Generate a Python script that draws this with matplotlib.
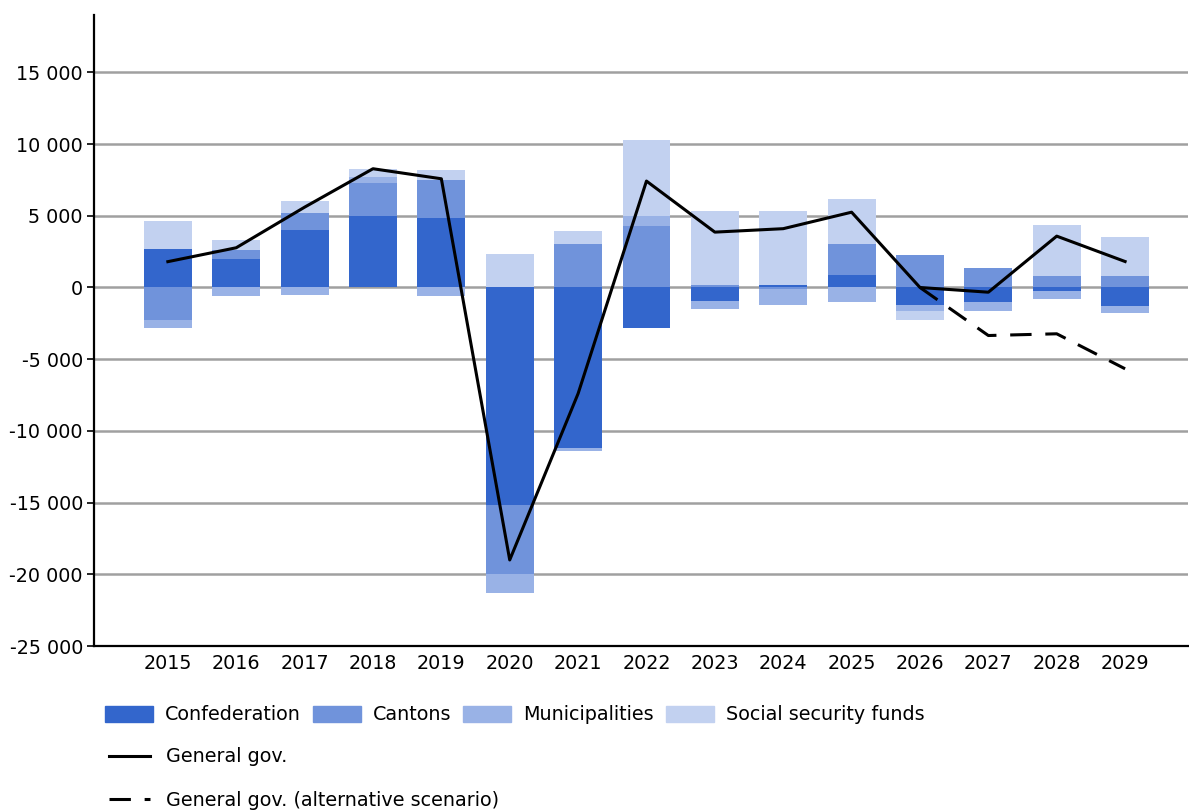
import numpy as np
import matplotlib.pyplot as plt
from matplotlib.patches import Patch
from matplotlib.lines import Line2D
from matplotlib.ticker import FuncFormatter

years = [str(y) for y in range(2015, 2030)]

confederation = [2700, 2000, 3980, 4950, 4840, -15200, -11170, -2840, -960, 150, 880, -1210, -1020, -260, -1260]
cantons = [-2300, 580, 1200, 2330, 2670, -4800, 3050, 4260, 140, -100, 2170, 2280, 1350, 770, 770]
municipalities = [-540, -560, -510, 420, -600, -1270, -200, 700, -530, -1100, -1020, -440, -630, -550, -490]
social_security = [1930, 700, 820, 530, 680, 2300, 860, 5310, 5160, 5150, 3110, -600, 0, 3600, 2720]

general_gov = [1800, 2770, 5600, 8280, 7580, -19000, -7400, 7420, 3860, 4100, 5250, 0, -330, 3580, 1810]
alt_years = ["2026", "2027", "2028", "2029"]
general_gov_alt = [0, -3350, -3230, -5670]

series = [
    ("Confederation", confederation, "#3366cc"),
    ("Cantons", cantons, "#7093db"),
    ("Municipalities", municipalities, "#99b2e6"),
    ("Social security funds", social_security, "#c2d1f0"),
]

FS = 13.8

fig = plt.figure(figsize=(11.89, 8.10), dpi=100)
ax = fig.add_axes([94 / 1189, (810 - 646) / 810, (1188 - 94) / 1189, (646 - 15) / 810])

x = np.arange(len(years))
pos_base = np.zeros(len(years))
neg_base = np.zeros(len(years))
for name, vals, col in series:
    v = np.array(vals, dtype=float)
    pos = np.where(v > 0, v, 0)
    neg = np.where(v < 0, v, 0)
    ax.bar(x, pos, 0.7, bottom=pos_base, color=col, zorder=2)
    ax.bar(x, neg, 0.7, bottom=neg_base, color=col, zorder=2)
    pos_base += pos
    neg_base += neg

ax.plot(x, general_gov, color="black", lw=2.2, zorder=4)
alt_x = [years.index(y) for y in alt_years]
ax.plot(alt_x, general_gov_alt, color="black", lw=2.2, dashes=(7, 4.5), zorder=4)

ax.set_xlim(-1.08, 14.92)
ax.set_ylim(-25000, 19000)
ax.set_yticks(np.arange(-25000, 15001, 5000))
ax.yaxis.set_major_formatter(FuncFormatter(lambda v, p: f"{int(v):,}".replace(",", " ")))
ax.set_xticks(x)
ax.set_xticklabels(years)
ax.tick_params(axis="x", length=0, labelsize=FS, pad=6)
ax.tick_params(axis="y", length=5, width=1.2, labelsize=FS, pad=3)
ax.yaxis.grid(True, color="#a0a0a0", lw=1.8, zorder=0)
ax.set_axisbelow(True)
for s in ["top", "right"]:
    ax.spines[s].set_visible(False)
ax.spines["left"].set_linewidth(1.6)
ax.spines["bottom"].set_linewidth(1.6)

em = FS * 100 / 72
patches = [Patch(color=col, label=name) for name, _, col in series]
fig.legend(handles=patches, ncol=4, frameon=False, fontsize=FS,
           loc="center left", bbox_to_anchor=(105 / 1189, 1 - 715 / 810),
           borderpad=0, borderaxespad=0, handlelength=48 / em, handleheight=0.85,
           handletextpad=12 / em, columnspacing=12 / em)
fig.legend(handles=[Line2D([], [], color="black", lw=2.2, label="General gov.")],
           frameon=False, fontsize=FS, loc="center left",
           bbox_to_anchor=(109 / 1189, 1 - 757 / 810), borderpad=0, borderaxespad=0,
           handlelength=41 / em, handletextpad=16 / em)
fig.legend(handles=[Line2D([], [], color="black", lw=2.2, dashes=(7, 4.5),
                           label="General gov. (alternative scenario)")],
           frameon=False, fontsize=FS, loc="center left",
           bbox_to_anchor=(109 / 1189, 1 - 800 / 810), borderpad=0, borderaxespad=0,
           handlelength=41 / em, handletextpad=16 / em)

fig.savefig("out.png", dpi=100)
